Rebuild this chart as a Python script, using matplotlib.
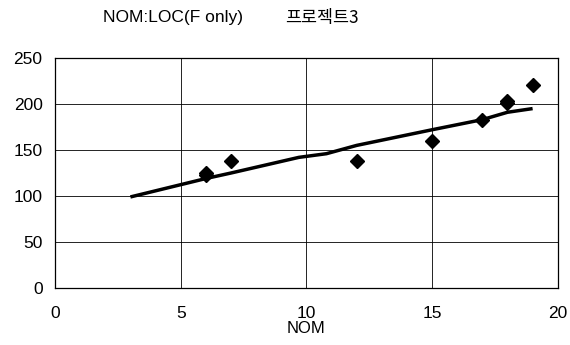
import matplotlib
matplotlib.use("Agg")
from matplotlib import pyplot as plt

# measured points (NOM vs LOC)
nom = [6, 6, 7, 12, 15, 17, 18, 18, 19]
loc = [125, 123, 138, 138, 160, 183, 203, 201, 221]

# fitted curve
fit_x = [3, 6, 7, 9.7, 10.8, 12, 15, 17, 18, 19]
fit_y = [99, 119, 125, 142, 146, 155, 172, 183, 191, 195]

xticks = [0, 5, 10, 15, 20]
yticks = [0, 50, 100, 150, 200, 250]

plt.rcParams['font.family'] = ['Liberation Sans', 'Noto Sans CJK KR', 'DejaVu Sans']

fig = plt.figure(figsize=(5.7, 3.45), dpi=100)
ax = fig.add_axes((0.0965, 0.165, 0.882, 0.667))

ax.plot(fit_x, fit_y, color='black', linewidth=2.5, solid_capstyle='butt', zorder=3)
ax.plot(nom, loc, linestyle='none', marker='D', markersize=7.5,
        color='black', zorder=4)

ax.set_xlim(0, 20)
ax.set_ylim(0, 250)
ax.set_xticks(xticks)
ax.set_yticks(yticks)
ax.grid(True, color='black', linewidth=0.6)
ax.set_axisbelow(True)
for s in ax.spines.values():
    s.set_linewidth(0.9)
ax.tick_params(length=0, labelsize=12.5)
ax.tick_params(axis='x', pad=13)
ax.tick_params(axis='y', pad=9)
ax.set_xlabel('NOM', fontsize=12, labelpad=0)

fig.text(0.181, 0.948, 'NOM:LOC(F only)', fontsize=12.5, va='center')
fig.text(0.50, 0.948, '프로젝트3', fontsize=12.5, va='center',
         family=['Noto Sans CJK KR', 'DejaVu Sans'])

fig.savefig('out.png', dpi=100)
